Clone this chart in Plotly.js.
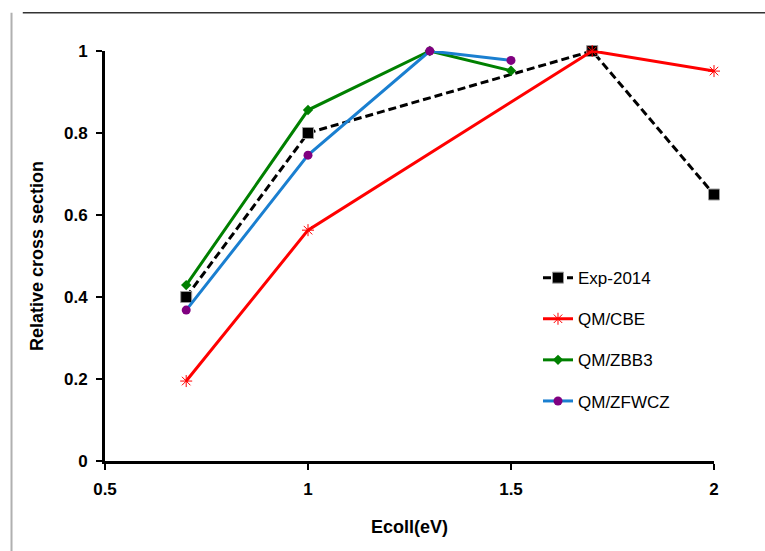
<!DOCTYPE html>
<html>
<head>
<meta charset="utf-8">
<script src="https://cdn.plot.ly/plotly-3.0.1.min.js"></script>
<style>
html,body{margin:0;padding:0;background:#fff;}
#chart{width:765px;height:551px;}
</style>
</head>
<body>
<div id="chart"></div>
<script>
// Data
const seriesNames = ["Exp-2014", "QM/CBE", "QM/ZBB3", "QM/ZFWCZ"];
const expX = [0.7, 1.0, 1.7, 2.0];
const expY = [0.40, 0.80, 1.00, 0.65];
const cbeX = [0.7, 1.0, 1.7, 2.0];
const cbeY = [0.195, 0.563, 1.00, 0.951];
const zbb3X = [0.7, 1.0, 1.3, 1.5];
const zbb3Y = [0.429, 0.856, 1.00, 0.952];
const zfwczX = [0.7, 1.0, 1.3, 1.5];
const zfwczY = [0.368, 0.746, 1.00, 0.977];
const xTickVals = [0.5, 1, 1.5, 2];
const xTickText = ["0.5", "1", "1.5", "2"];
const yTickVals = [0, 0.2, 0.4, 0.6, 0.8, 1];
const yTickText = ["0", "0.2", "0.4", "0.6", "0.8", "1"];

const traces = [
  {x: expX, y: expY, name: seriesNames[0], legendgroup: "a", mode: "lines+markers",
   line: {color: "#000000", width: 3, dash: "8px,4px"},
   marker: {symbol: "square", size: 11, color: "#000000", line: {color: "#9a9a9a", width: 1}}},
  {x: cbeX, y: cbeY, name: seriesNames[1], legendgroup: "b", mode: "lines+markers",
   line: {color: "#ff0000", width: 3},
   marker: {symbol: "asterisk-open", size: 10, color: "#ff0000", line: {color: "#ff0000", width: 1}}},
  {x: zbb3X, y: zbb3Y, name: seriesNames[2], legendgroup: "c", mode: "lines+markers",
   line: {color: "#008000", width: 3},
   marker: {symbol: "diamond", size: 8, color: "#008000"}},
  {x: zfwczX, y: zfwczY, name: seriesNames[3], legendgroup: "d", mode: "lines+markers",
   line: {color: "#1a7fd0", width: 3},
   marker: {symbol: "circle", size: 9, color: "#800080"}}
];
traces.forEach(t => { t.cliponaxis = false; });

const layout = {
  width: 765, height: 551,
  margin: {l: 105, r: 51, t: 51, b: 90},
  paper_bgcolor: "#ffffff", plot_bgcolor: "#ffffff",
  font: {family: "Liberation Sans, Arial, sans-serif", color: "#000000"},
  showlegend: true,
  legend: {x: 0.711, y: 0.49, xanchor: "left", yanchor: "top",
           font: {size: 17, color: "#000000"}, tracegroupgap: 16,
           bgcolor: "rgba(0,0,0,0)", traceorder: "grouped"},
  xaxis: {range: [0.5, 2], tickvals: xTickVals, ticktext: xTickText,
          showgrid: false, zeroline: false, showline: true, linecolor: "#000000", linewidth: 3,
          ticks: "outside", ticklen: 6, tickwidth: 2.5, tickcolor: "#000000", ticklabelstandoff: 5,
          tickfont: {size: 17, family: "Liberation Sans, Arial, sans-serif", weight: "bold"},
          title: {text: "<b>Ecoll(eV)</b>", font: {size: 18}, standoff: 22}},
  yaxis: {range: [0, 1], tickvals: yTickVals, ticktext: yTickText,
          showgrid: false, zeroline: false, showline: true, linecolor: "#000000", linewidth: 3,
          ticks: "outside", ticklen: 6, tickwidth: 2.5, tickcolor: "#000000", ticklabelstandoff: 5,
          tickfont: {size: 17, family: "Liberation Sans, Arial, sans-serif", weight: "bold"},
          title: {text: "<b>Relative cross section</b>", font: {size: 18}, standoff: 16}},
  shapes: [
    {type: "line", xref: "paper", yref: "paper", x0: -0.135, x1: 1.09, y0: 1.0932, y1: 1.0932,
     line: {color: "#333333", width: 1.5}},
    {type: "line", xref: "paper", yref: "paper", x0: -0.1535, x1: -0.1535, y0: -0.22, y1: 1.0932,
     line: {color: "#b0b0b0", width: 2}}
  ]
};

Plotly.newPlot("chart", traces, layout, {displayModeBar: false, staticPlot: true});
</script>
</body>
</html>
